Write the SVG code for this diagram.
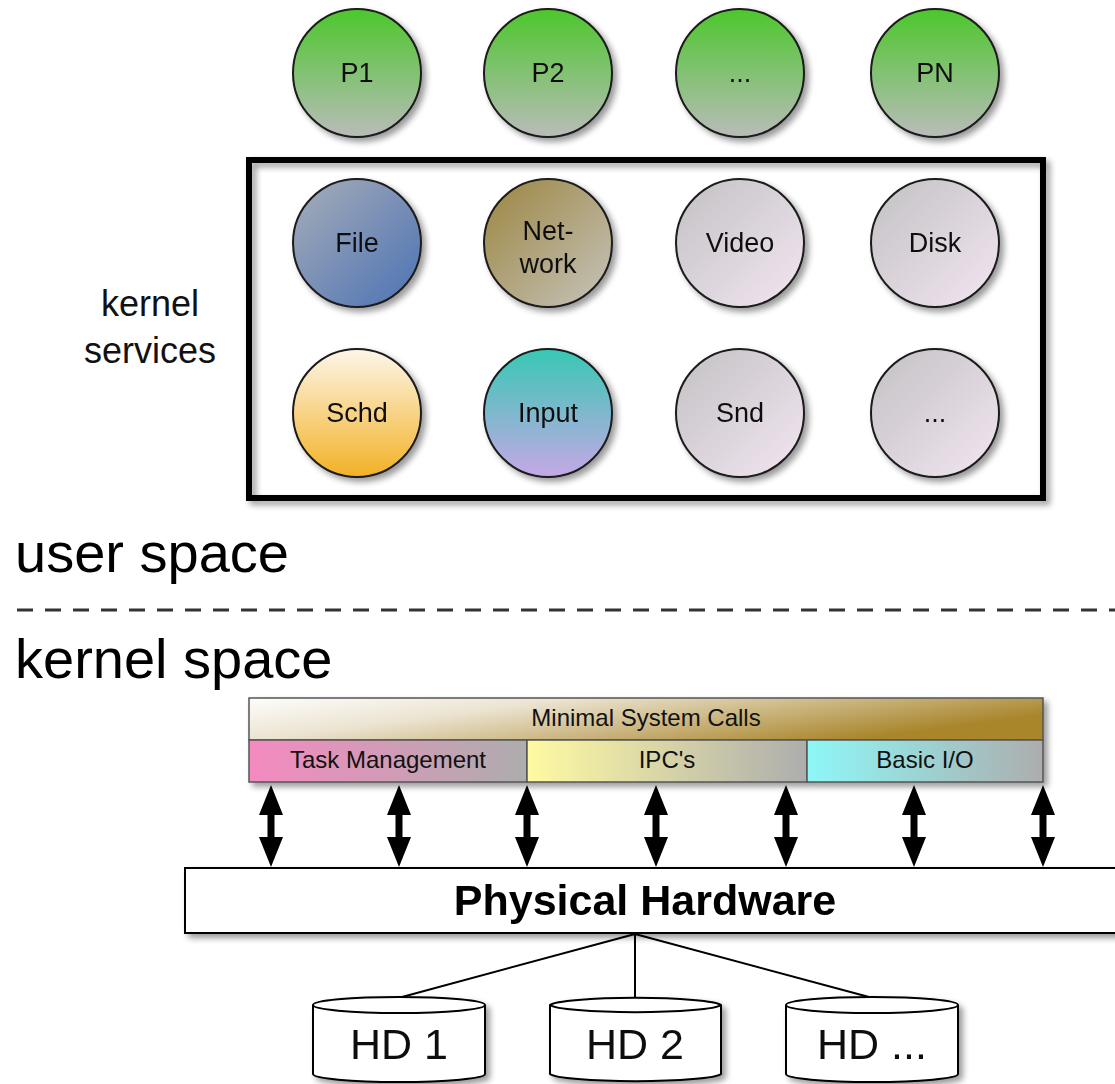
<svg xmlns="http://www.w3.org/2000/svg" width="1115" height="1084" viewBox="0 0 1115 1084">
<style>
.lbl{font-family:"Liberation Sans",Arial,sans-serif;fill:#111;text-anchor:middle}
.cl{font-size:27px}
.c{stroke:#1a1a1a;stroke-width:2}
.big{font-family:"Liberation Sans",Arial,sans-serif;fill:#000;font-size:56px}
.bar{stroke:#555;stroke-width:1.5}
.hd{fill:#fff;stroke:#000;stroke-width:2}
</style>
<defs>
<filter id="sh" x="-20%" y="-20%" width="150%" height="150%">
<feGaussianBlur in="SourceAlpha" stdDeviation="3"/>
<feOffset dx="4" dy="4" result="b"/>
<feComponentTransfer><feFuncA type="linear" slope="0.4"/></feComponentTransfer>
<feMerge><feMergeNode/><feMergeNode in="SourceGraphic"/></feMerge>
</filter>
<linearGradient id="gP" x1="0" y1="0" x2="0" y2="1"><stop offset="0" stop-color="#4cc72c"/><stop offset="1" stop-color="#b9bcb9"/></linearGradient>
<linearGradient id="gFile" x1="0" y1="0" x2="1" y2="1"><stop offset="0" stop-color="#a7adb9"/><stop offset="1" stop-color="#4b72b4"/></linearGradient>
<linearGradient id="gNet" x1="0" y1="0" x2="1" y2="1"><stop offset="0" stop-color="#9c8540"/><stop offset="1" stop-color="#c6c4bc"/></linearGradient>
<linearGradient id="gGray" x1="0" y1="0" x2="1" y2="1"><stop offset="0" stop-color="#c2c1c3"/><stop offset="1" stop-color="#f3e6f2"/></linearGradient>
<linearGradient id="gSchd" x1="0" y1="0" x2="0" y2="1"><stop offset="0" stop-color="#fdf6ea"/><stop offset="1" stop-color="#f2b124"/></linearGradient>
<linearGradient id="gInput" x1="0" y1="0" x2="0" y2="1"><stop offset="0" stop-color="#37c8b4"/><stop offset="1" stop-color="#c5a8e6"/></linearGradient>
<linearGradient id="gMin" x1="0" y1="0" x2="1" y2="0.4"><stop offset="0" stop-color="#fdfdfb"/><stop offset="0.35" stop-color="#ece4d2"/><stop offset="1" stop-color="#a9862c"/></linearGradient>
<linearGradient id="gTask" x1="0" y1="0" x2="1" y2="0"><stop offset="0" stop-color="#f58ac0"/><stop offset="1" stop-color="#adadad"/></linearGradient>
<linearGradient id="gIpc" x1="0" y1="0" x2="1" y2="0"><stop offset="0" stop-color="#fffaa2"/><stop offset="1" stop-color="#adadad"/></linearGradient>
<linearGradient id="gIo" x1="0" y1="0" x2="1" y2="0"><stop offset="0" stop-color="#8ef7f7"/><stop offset="1" stop-color="#adadad"/></linearGradient>
<marker id="ah" viewBox="0 0 30 24" refX="10" refY="12" markerWidth="30" markerHeight="24" markerUnits="userSpaceOnUse" orient="auto-start-reverse">
<path d="M0,0 L30,12 L0,24 Z" fill="#000"/>
</marker>
</defs>
<rect width="1115" height="1084" fill="#fff"/>

<g id="processes">
<g id="p1" filter="url(#sh)"><circle class="c" cx="357" cy="73" r="64" fill="url(#gP)"/><text class="lbl cl" x="357" y="82">P1</text></g>
<g id="p2" filter="url(#sh)"><circle class="c" cx="548" cy="73" r="64" fill="url(#gP)"/><text class="lbl cl" x="548" y="82">P2</text></g>
<g id="p3" filter="url(#sh)"><circle class="c" cx="740" cy="73" r="64" fill="url(#gP)"/><text class="lbl cl" x="740" y="82">...</text></g>
<g id="pn" filter="url(#sh)"><circle class="c" cx="935" cy="73" r="64" fill="url(#gP)"/><text class="lbl cl" x="935" y="82">PN</text></g>
</g>

<g id="kernel-services-box" filter="url(#sh)">
<rect x="249" y="160" width="794" height="338" fill="none" stroke="#000" stroke-width="6"/>
</g>
<g id="kernel-services-label"><text class="lbl" x="150" y="316" font-size="36">kernel</text><text class="lbl" x="150" y="363" font-size="36">services</text></g>

<g id="services">
<g id="file" filter="url(#sh)"><circle class="c" cx="357" cy="243" r="64" fill="url(#gFile)"/><text class="lbl cl" x="357" y="252">File</text></g>
<g id="network" filter="url(#sh)"><circle class="c" cx="548" cy="243" r="64" fill="url(#gNet)"/><text class="lbl cl" x="548" y="240">Net-</text><text class="lbl cl" x="548" y="273">work</text></g>
<g id="video" filter="url(#sh)"><circle class="c" cx="740" cy="243" r="64" fill="url(#gGray)"/><text class="lbl cl" x="740" y="252">Video</text></g>
<g id="disk" filter="url(#sh)"><circle class="c" cx="935" cy="243" r="64" fill="url(#gGray)"/><text class="lbl cl" x="935" y="252">Disk</text></g>
<g id="schd" filter="url(#sh)"><circle class="c" cx="357" cy="413" r="64" fill="url(#gSchd)"/><text class="lbl cl" x="357" y="422">Schd</text></g>
<g id="input" filter="url(#sh)"><circle class="c" cx="548" cy="413" r="64" fill="url(#gInput)"/><text class="lbl cl" x="548" y="422">Input</text></g>
<g id="snd" filter="url(#sh)"><circle class="c" cx="740" cy="413" r="64" fill="url(#gGray)"/><text class="lbl cl" x="740" y="422">Snd</text></g>
<g id="more" filter="url(#sh)"><circle class="c" cx="935" cy="413" r="64" fill="url(#gGray)"/><text class="lbl cl" x="935" y="422">...</text></g>
</g>

<g id="space-labels">
<text class="big" x="15" y="572">user space</text>
<line x1="17" y1="610" x2="1115" y2="610" stroke="#333" stroke-width="3" stroke-dasharray="16 12"/>
<text class="big" x="15" y="678">kernel space</text>
</g>

<g id="syscalls" filter="url(#sh)">
<rect class="bar" x="249" y="698" width="794" height="42" fill="url(#gMin)"/>
<rect class="bar" x="249" y="740" width="278" height="42" fill="url(#gTask)"/>
<rect class="bar" x="527" y="740" width="280" height="42" fill="url(#gIpc)"/>
<rect class="bar" x="807" y="740" width="236" height="42" fill="url(#gIo)"/>
</g>
<g id="syscall-labels">
<text class="lbl" x="646" y="726" font-size="24">Minimal System Calls</text>
<text class="lbl" x="388" y="768" font-size="24">Task Management</text>
<text class="lbl" x="667" y="768" font-size="24">IPC's</text>
<text class="lbl" x="925" y="768" font-size="24">Basic I/O</text>
</g>

<g id="hardware" filter="url(#sh)">
<rect x="185" y="868" width="940" height="65" fill="#fff" stroke="#000" stroke-width="2"/>
<text x="645" y="915" font-family="'Liberation Sans',Arial,sans-serif" font-weight="bold" font-size="43" text-anchor="middle" fill="#000">Physical Hardware</text>
</g>

<g id="connectors" stroke="#000">
<line x1="271" y1="805" x2="271" y2="847" stroke-width="7" marker-start="url(#ah)" marker-end="url(#ah)"/>
<line x1="399" y1="805" x2="399" y2="847" stroke-width="7" marker-start="url(#ah)" marker-end="url(#ah)"/>
<line x1="527" y1="805" x2="527" y2="847" stroke-width="7" marker-start="url(#ah)" marker-end="url(#ah)"/>
<line x1="656" y1="805" x2="656" y2="847" stroke-width="7" marker-start="url(#ah)" marker-end="url(#ah)"/>
<line x1="786" y1="805" x2="786" y2="847" stroke-width="7" marker-start="url(#ah)" marker-end="url(#ah)"/>
<line x1="914" y1="805" x2="914" y2="847" stroke-width="7" marker-start="url(#ah)" marker-end="url(#ah)"/>
<line x1="1043" y1="805" x2="1043" y2="847" stroke-width="7" marker-start="url(#ah)" marker-end="url(#ah)"/>
<line x1="635" y1="934" x2="402" y2="997" stroke-width="2"/>
<line x1="635" y1="934" x2="635" y2="997" stroke-width="2"/>
<line x1="635" y1="934" x2="869" y2="997" stroke-width="2"/>
</g>

<g id="hd1" filter="url(#sh)">
<path class="hd" d="M313,1005 A86,8 0 0 1 485,1005 L485,1074 A86,8 0 0 1 313,1074 Z"/>
<path d="M313,1005 A86,8 0 0 0 485,1005" fill="none" stroke="#000" stroke-width="2"/>
<text class="lbl" x="399" y="1059" font-size="43">HD 1</text>
</g>
<g id="hd2" filter="url(#sh)">
<path class="hd" d="M550,1005 A86,8 0 0 1 721,1005 L721,1074 A86,8 0 0 1 550,1074 Z"/>
<path d="M550,1005 A86,8 0 0 0 721,1005" fill="none" stroke="#000" stroke-width="2"/>
<text class="lbl" x="635" y="1059" font-size="43">HD 2</text>
</g>
<g id="hd3" filter="url(#sh)">
<path class="hd" d="M786,1005 A86,8 0 0 1 958,1005 L958,1074 A86,8 0 0 1 786,1074 Z"/>
<path d="M786,1005 A86,8 0 0 0 958,1005" fill="none" stroke="#000" stroke-width="2"/>
<text class="lbl" x="872" y="1059" font-size="43">HD ...</text>
</g>
</svg>
